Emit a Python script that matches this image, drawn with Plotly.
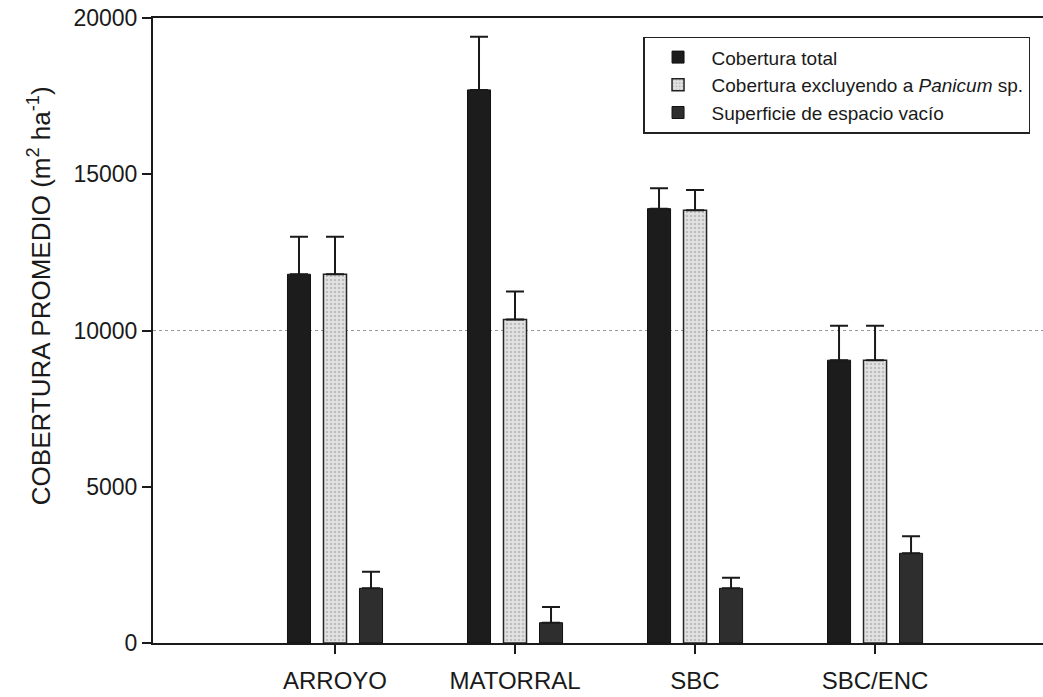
"""
Cobertura promedio por sitio: barras agrupadas con error estandar (solo hacia arriba).
"""

import plotly.graph_objects as go

sitios = ['ARROYO', 'MATORRAL', 'SBC', 'SBC/ENC']

cobertura_total = [11800, 17700, 13900, 9050]
cobertura_total_err = [1200, 1700, 650, 1100]

cobertura_sin_panicum = [11800, 10350, 13850, 9050]
cobertura_sin_panicum_err = [1200, 900, 650, 1100]

espacio_vacio = [1750, 650, 1750, 2870]
espacio_vacio_err = [530, 500, 340, 550]

linea_ref = 10000

font_family = 'Arial, Liberation Sans, sans-serif'

fig = go.Figure()


def err(vals):
    return dict(
        type='data', array=vals, arrayminus=[0] * len(vals), symmetric=False,
        color='#1a1a1a', thickness=2, width=9,
    )


fig.add_trace(go.Bar(
    x=sitios, y=cobertura_total, name='Cobertura total',
    marker=dict(color='#1c1c1c', line=dict(color='#111111', width=1)),
    error_y=err(cobertura_total_err),
))
fig.add_trace(go.Bar(
    x=sitios, y=cobertura_sin_panicum, name='Cobertura excluyendo a <i>Panicum</i> sp.',
    marker=dict(
        color='#dcdcdc', line=dict(color='#222222', width=1.5),
        pattern=dict(shape='.', fgcolor='#9a9a9a', bgcolor='#e2e2e2', size=4, solidity=0.3),
    ),
    error_y=err(cobertura_sin_panicum_err),
))
fig.add_trace(go.Bar(
    x=sitios, y=espacio_vacio, name='Superficie de espacio vacío',
    marker=dict(color='#2e2e2e', line=dict(color='#111111', width=1)),
    error_y=err(espacio_vacio_err),
))

# linea punteada de referencia
fig.add_shape(
    type='line', xref='paper', x0=0, x1=1, yref='y', y0=linea_ref, y1=linea_ref,
    line=dict(color='#9a9a9a', width=1.2, dash='dot'), layer='below',
)

# titulo del eje y como anotacion (queda algo por encima del centro)
fig.add_annotation(
    text='COBERTURA PROMEDIO (m<sup>2</sup> ha<sup>-1</sup>)',
    xref='paper', yref='paper', x=-0.128, y=0.555,
    xanchor='center', yanchor='middle', textangle=-90, showarrow=False,
    font=dict(size=26, color='#1a1a1a'),
)

fig.update_layout(
    width=1043, height=697,
    margin=dict(l=153, r=0, t=18, b=54),
    paper_bgcolor='white', plot_bgcolor='white',
    barmode='group', bargap=0.4, bargroupgap=0.36,
    font=dict(family=font_family, color='#1a1a1a'),
    showlegend=True,
    legend=dict(
        x=0.5506, y=0.97, xanchor='left', yanchor='top',
        bgcolor='white', bordercolor='#222222', borderwidth=1.5,
        font=dict(size=19, color='#1a1a1a'),
        itemwidth=57,
    ),
    xaxis=dict(
        range=[-1.011, 3.933],
        showline=True, linecolor='#1a1a1a', linewidth=2, mirror=True,
        ticks='outside', ticklen=9, tickwidth=2, tickcolor='#1a1a1a',
        tickfont=dict(size=24), ticklabelstandoff=6,
        showgrid=False, zeroline=False,
    ),
    yaxis=dict(
        range=[0, 20000],
        tickvals=[0, 5000, 10000, 15000, 20000],
        ticktext=['0', '5000', '10000', '15000', '20000'],
        showline=True, linecolor='#1a1a1a', linewidth=2,
        ticks='outside', ticklen=9, tickwidth=2, tickcolor='#1a1a1a',
        tickfont=dict(size=23), showgrid=False, zeroline=False,
    ),
)

fig.write_html(
    'out.html',
    config={'displayModeBar': False},
    post_script="document.body.style.margin='0';",
)
